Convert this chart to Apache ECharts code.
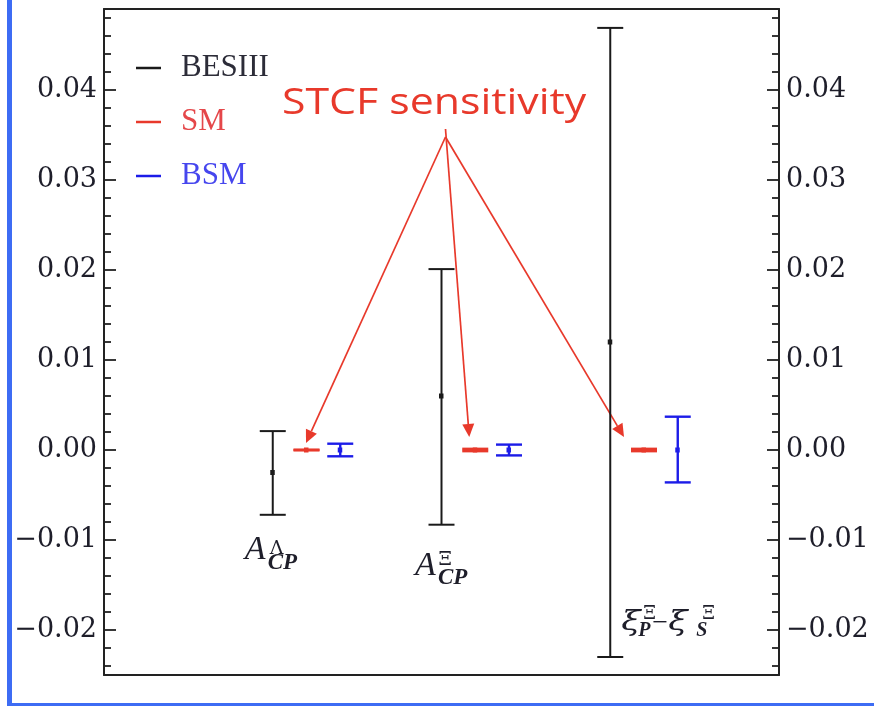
<!DOCTYPE html>
<html>
<head>
<meta charset="utf-8">
<script src="https://cdn.jsdelivr.net/npm/echarts@6/dist/echarts.min.js"></script>
<style>
  html, body { margin: 0; padding: 0; background: #fff; }
  #chart { width: 874px; height: 706px; }
</style>
</head>
<body>
<div id="chart"></div>
<script>
// Observable groups along the horizontal axis (1, 2, 3)
const categories = [1, 2, 3];

// BESIII measurements: central value and total-error band
const besiiiValue = [-0.0025, 0.0060, 0.0120];
const besiiiLow   = [-0.0072, -0.0083, -0.0230];
const besiiiHigh  = [ 0.0021,  0.0201,  0.0469];

// SM expectation with STCF sensitivity
const smValue = [0, 0, 0];
const smLow   = [-0.00002, -0.00012, -0.00012];
const smHigh  = [ 0.00002,  0.00012,  0.00012];

// BSM reach with STCF sensitivity
const bsmValue = [0, 0, 0];
const bsmLow   = [-0.0007, -0.0006, -0.0036];
const bsmHigh  = [ 0.0007,  0.0006,  0.0037];

// Tick values of the vertical axes
const majorTicks = [-0.02, -0.01, 0, 0.01, 0.02, 0.03, 0.04];
const minorTicks = [-0.024, -0.022, -0.018, -0.016, -0.014, -0.012, -0.008, -0.006, -0.004, -0.002,
                    0.002, 0.004, 0.006, 0.008, 0.012, 0.014, 0.016, 0.018, 0.022, 0.024,
                    0.026, 0.028, 0.032, 0.034, 0.036, 0.038, 0.042, 0.044, 0.046, 0.048];

const seriesNames = ['BESIII', 'SM', 'BSM'];
const annotation = 'STCF sensitivity';

const FRAME = '#222';
const RED = '#e8392b';
const BLUE = '#1c1ce8';

const tickFormat = v => (v < 0 ? '\u2212' : '') + Math.abs(v).toFixed(2);

function errorBars(name, color, offset, vals, lows, highs, lw) {
  return {
    type: 'custom',
    name: name,
    xAxisIndex: 0,
    yAxisIndex: 0,
    itemStyle: { color: color },
    data: categories.map((c, i) => [c + offset, vals[i], lows[i], highs[i]]),
    encode: { x: 0, y: [1, 2, 3] },
    renderItem: function (params, api) {
      const x = api.value(0);
      const p = api.coord([x, api.value(1)]);
      const lo = api.coord([x, api.value(2)]);
      const hi = api.coord([x, api.value(3)]);
      const hw = 13;
      const st = { stroke: color, lineWidth: lw, fill: null };
      return {
        type: 'group',
        children: [
          { type: 'line', shape: { x1: p[0], y1: hi[1], x2: p[0], y2: lo[1] }, style: st },
          { type: 'line', shape: { x1: p[0] - hw, y1: hi[1], x2: p[0] + hw, y2: hi[1] }, style: st },
          { type: 'line', shape: { x1: p[0] - hw, y1: lo[1], x2: p[0] + hw, y2: lo[1] }, style: st },
          { type: 'rect', shape: { x: p[0] - 2.5, y: p[1] - 2.5, width: 4.5, height: 5 }, style: { fill: color } }
        ]
      };
    }
  };
}

function yAxes(position) {
  const base = { type: 'value', min: -0.025, max: 0.049, position: position, splitLine: { show: false } };
  return [
    Object.assign({}, base, {
      axisLine: { show: true, onZero: false, lineStyle: { color: FRAME, width: 2 } },
      axisTick: { show: true, inside: true, length: 12, customValues: majorTicks, lineStyle: { color: FRAME, width: 1.8 } },
      axisLabel: { show: true, customValues: majorTicks, margin: 7, formatter: tickFormat,
                   fontFamily: 'DejaVu Serif', fontSize: 27, color: '#1e1e2a' }
    }),
    Object.assign({}, base, {
      axisLine: { show: false, onZero: false },
      axisTick: { show: true, inside: true, length: 7, customValues: minorTicks, lineStyle: { color: FRAME, width: 1.8 } },
      axisLabel: { show: false }
    })
  ];
}

function xAxis(position) {
  return {
    type: 'value', min: -0.2, max: 3.8, position: position,
    axisLine: { show: true, onZero: false, lineStyle: { color: FRAME, width: 2 } },
    axisTick: { show: false }, axisLabel: { show: false }, splitLine: { show: false }
  };
}

const option = {
  backgroundColor: '#fff',
  animation: false,
  grid: { left: 104, right: 95, top: 9, bottom: 31 },
  xAxis: [xAxis('bottom'), xAxis('top')],
  yAxis: yAxes('left').concat(yAxes('right')),
  legend: {
    orient: 'vertical', left: 131, top: 46, itemGap: 20,
    itemWidth: 25, itemHeight: 2.5, icon: 'rect',
    formatter: n => '{g|}' + n,
    textStyle: { fontFamily: 'Liberation Serif', fontSize: 31, lineHeight: 34,
                 rich: { g: { width: 15 } } },
    data: [
      { name: seriesNames[0], textStyle: { color: '#2c2c38' } },
      { name: seriesNames[1], textStyle: { color: '#e5474a' } },
      { name: seriesNames[2], textStyle: { color: '#4646ee' } }
    ]
  },
  series: [
    errorBars(seriesNames[0], '#1a1a1a', -0.2, besiiiValue, besiiiLow, besiiiHigh, 2),
    errorBars(seriesNames[1], RED, 0, smValue, smLow, smHigh, 2.6),
    errorBars(seriesNames[2], BLUE, 0.2, bsmValue, bsmLow, bsmHigh, 2.4)
  ]
};

const chart = echarts.init(document.getElementById('chart'), null, { renderer: 'canvas' });
chart.setOption(option);

const toPx = (x, y) => chart.convertToPixel({ gridIndex: 0 }, [x, y]);

// Arrow made of a shaft and a filled head
function arrow(from, to, color) {
  const dx = to[0] - from[0], dy = to[1] - from[1];
  const len = Math.hypot(dx, dy);
  const ux = dx / len, uy = dy / len;
  const hl = 13, hw = 6;
  const bx = to[0] - ux * hl, by = to[1] - uy * hl;
  return [
    { type: 'line', shape: { x1: from[0], y1: from[1], x2: bx, y2: by }, style: { stroke: color, lineWidth: 1.7 } },
    { type: 'polygon', shape: { points: [to, [bx - uy * hw, by + ux * hw], [bx + uy * hw, by - ux * hw]] }, style: { fill: color } }
  ];
}

// Text piece placed by its alphabetic baseline
function piece(ax, ay, t) {
  const f = t.size;
  return {
    type: 'text', x: ax + t.dx, y: ay + t.by - 0.34 * f, scaleX: t.sx || 1,
    style: {
      text: t.text, fill: '#1e1e2a', align: 'left', verticalAlign: 'middle',
      fontSize: f,
      fontFamily: t.greek ? 'DejaVu Serif' : 'Liberation Serif',
      fontStyle: t.italic ? 'italic' : 'normal',
      fontWeight: t.bold ? 'bold' : 'normal'
    }
  };
}

// Axis-category names in mathematical notation
const mathLabels = [
  [ { text: 'A', dx: -28, by: 112, size: 34, italic: true },
    { text: '\u039B', dx: -3, by: 106, size: 19, greek: true },
    { text: 'CP', dx: -5, by: 121, size: 23, italic: true, bold: true } ],
  [ { text: 'A', dx: -26.5, by: 128, size: 34, italic: true },
    { text: '\u039E', dx: -3, by: 117, size: 19, greek: true },
    { text: 'CP', dx: -3.5, by: 136, size: 23, italic: true, bold: true } ],
  [ { text: '\u03BE', dx: 11, by: 182, size: 27, italic: true, greek: true, sx: 1.3 },
    { text: '\u039E', dx: 33, by: 170, size: 18, greek: true },
    { text: 'P', dx: 28, by: 188, size: 20, italic: true, bold: true },
    { text: '\u2212', dx: 42, by: 183, size: 28 },
    { text: '\u03BE', dx: 58, by: 182, size: 27, italic: true, greek: true, sx: 1.3 },
    { text: 'S', dx: 86, by: 188, size: 20, italic: true, bold: true },
    { text: '\u039E', dx: 92, by: 170, size: 18, greek: true } ]
];

const graphic = [];

// Slide selection border along the left and bottom edges
graphic.push({ type: 'rect', shape: { x: 7, y: 0, width: 5, height: 706 }, style: { fill: '#3d6cf4' } });
graphic.push({ type: 'rect', shape: { x: 7, y: 703, width: 867, height: 3 }, style: { fill: '#3d6cf4' } });

categories.forEach((c, i) => {
  const a = toPx(c - 0.2, 0);
  mathLabels[i].forEach(t => graphic.push(piece(a[0], a[1], t)));
});

// Callout text with arrows to the SM marks
graphic.push({
  type: 'text', x: 282, y: 118 - 0.39 * 36, scaleX: 1.19,
  style: { text: annotation, fill: RED, fontSize: 36, fontFamily: 'Open Sans', fontWeight: 500,
           align: 'left', verticalAlign: 'middle' }
});
const tipOffsets = [[-0.5, -7], [-6, -13], [-20, -13]];
const starts = [[445.5, 137], [445.5, 129], [445.5, 137]];
categories.forEach((c, i) => {
  const p = toPx(c, smValue[i]);
  const tip = [p[0] + tipOffsets[i][0], p[1] + tipOffsets[i][1]];
  arrow(starts[i], tip, RED).forEach(g => graphic.push(g));
});

chart.setOption({ graphic: graphic });
</script>
</body>
</html>
